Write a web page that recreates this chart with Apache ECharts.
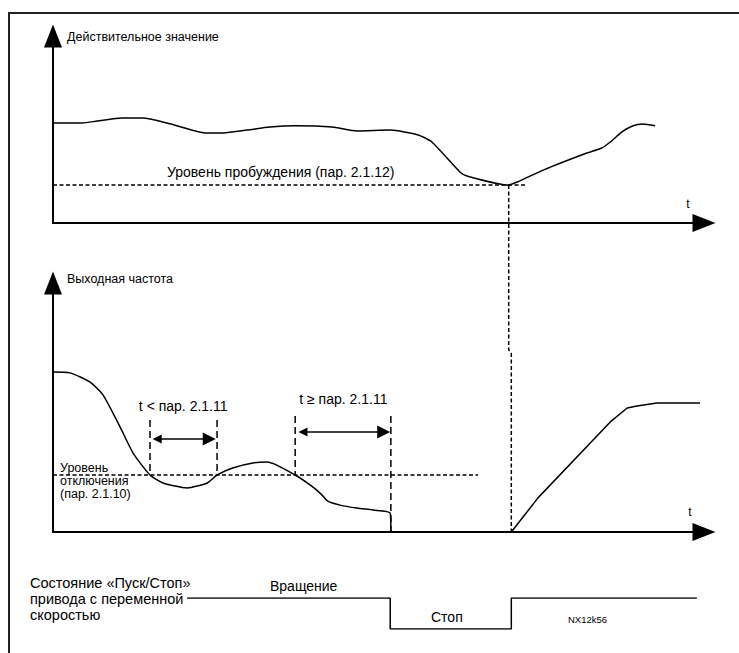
<!DOCTYPE html>
<html>
<head>
<meta charset="utf-8">
<title>Спящий режим</title>
<script src="https://cdn.jsdelivr.net/npm/echarts@6/dist/echarts.min.js"></script>
<style>
  html, body { margin: 0; padding: 0; background: #fff; }
  #chart { width: 739px; height: 653px; }
</style>
</head>
<body>
<div id="chart"></div>
<script>
// time axis runs 0..100 in all three panels, levels 0..100 in the two plots
const actualT = [0, 4.5, 6.8, 10.6, 13.8, 17.5, 23.7, 25.7, 29.8, 33.3, 37.2, 42.9, 46.7, 51.8, 56.1, 58.2, 62.5, 63.6, 69.9, 71.3, 75.3, 82.0, 84.3, 85.6, 87.4, 89.1, 90.6, 92.5]
const actualV = [53.5, 53.5, 54.5, 56.1, 56.1, 53.5, 48.1, 48.1, 49.7, 51.3, 52.0, 51.3, 49.2, 49.7, 47.1, 43.3, 27.3, 25.1, 20.3, 21.9, 28.3, 37.4, 40.1, 43.3, 48.7, 52.0, 52.9, 52.0]
const wakeLevel = 20.3
const wakeLineEnd = 72.8

const freqT = [0, 2.6, 5.7, 7.7, 10.3, 12.3, 14.9, 16.9, 20.6, 23.7, 25.2, 27.6, 30.7, 32.9, 37.2, 39.9, 41.3, 42.2, 44.1, 46.7, 49.2, 51.8, 51.9]
const freqV = [64.3, 63.9, 60.2, 55.0, 42.2, 31.7, 22.9, 19.7, 17.7, 19.7, 22.9, 25.7, 27.7, 28.1, 22.9, 18.1, 14.9, 12.4, 10.8, 9.6, 8.8, 7.6, 0]
const rampT = [70.4, 74.5, 85.6, 88.2, 89.7, 92.8, 99.4]
const rampV = [0, 13.7, 44.2, 49.8, 50.6, 51.8, 51.8]
const sleepLevel = 22.9
const sleepLineEnd = 65.3

// dashed line from the wake-up point down to the restart (in output-frequency units)
const wakeMarkT = [70.0, 70.0, 70.4, 70.4]
const wakeMarkV = [139.4, 73.1, 71.9, 0]

// sleep delay timer marks
const timerT = [14.9, 25.2, 37.2, 51.9]
const timerTop = [45.0, 45.0, 46.6, 46.6]
const timerBottom = [22.9, 22.9, 22.9, 0]
const spanStart = [16.0, 38.4]
const spanEnd = [24.0, 50.8]
const spanLevel = [37.3, 40.2]
const spanLabels = ['t < пар. 2.1.11', 't ≥ пар. 2.1.11']

// run / stop state
const stateT = [20.6, 51.8, 51.8, 70.4, 70.4, 98.9]
const stateV = [1, 1, 0, 0, 1, 1]

const FONT = 'Liberation Sans, Arial, sans-serif'
const BLACK = '#000'
const SHORT_DASH = { color: BLACK, width: 1.5, type: [4, 2.5] }

const zip = (xs, ys) => xs.map((x, i) => [x, ys[i]])

function arrowAxis(show) {
  return {
    type: 'value',
    min: 0,
    max: 100,
    show: show,
    axisLine: {
      show: true,
      onZero: false,
      symbol: ['none', 'triangle'],
      symbolSize: [18, 23],
      lineStyle: { color: BLACK, width: 2 }
    },
    axisTick: { show: false },
    axisLabel: { show: false },
    splitLine: { show: false }
  }
}

function curve(data, grid, extra) {
  return Object.assign({
    type: 'line',
    xAxisIndex: grid,
    yAxisIndex: grid,
    data: data,
    showSymbol: false,
    symbol: 'none',
    lineStyle: { color: BLACK, width: 1.5 },
    silent: true
  }, extra || {})
}

const series = [
  curve(zip(actualT, actualV), 0, { smooth: 0.2 }),
  curve([[0, wakeLevel], [wakeLineEnd, wakeLevel]], 0, { lineStyle: SHORT_DASH }),
  curve(zip(freqT, freqV), 1, { smooth: 0.2 }),
  curve(zip(rampT, rampV), 1),
  curve([[0, sleepLevel], [sleepLineEnd, sleepLevel]], 1, { lineStyle: SHORT_DASH }),
  curve(zip(wakeMarkT, wakeMarkV), 1, { clip: false, lineStyle: SHORT_DASH }),
  curve(zip(stateT, stateV), 2, { lineStyle: { color: BLACK, width: 1.5 } })
]

timerT.forEach((t, i) => {
  series.push(curve([[t, timerTop[i]], [t, timerBottom[i]]], 1, {
    lineStyle: { color: BLACK, width: 1.5, type: [7, 4] }
  }))
})

series.push({
  type: 'lines',
  coordinateSystem: 'cartesian2d',
  xAxisIndex: 1,
  yAxisIndex: 1,
  symbol: ['triangle', 'triangle'],
  symbolSize: [9, 13],
  lineStyle: { color: BLACK, width: 1.5, opacity: 1 },
  label: {
    show: true,
    position: 'middle',
    distance: 26,
    formatter: p => p.name,
    color: BLACK,
    fontFamily: FONT,
    fontSize: 14
  },
  silent: true,
  data: spanStart.map((s, i) => ({
    name: spanLabels[i],
    coords: [[s, spanLevel[i]], [spanEnd[i], spanLevel[i]]]
  }))
})

function text(x, y, str, size, extra) {
  return {
    type: 'text',
    x: x,
    y: y,
    silent: true,
    style: Object.assign({
      text: str,
      font: size + 'px ' + FONT,
      fill: BLACK,
      textAlign: 'left',
      textVerticalAlign: 'middle'
    }, extra || {})
  }
}

const option = {
  animation: false,
  backgroundColor: '#fff',
  grid: [
    { left: 53, top: 36, width: 651, height: 187 },
    { left: 53, top: 283, width: 651, height: 249 },
    { left: 53, top: 598, width: 651, height: 31 }
  ],
  xAxis: [arrowAxis(true), Object.assign(arrowAxis(true), { gridIndex: 1 }), Object.assign(arrowAxis(false), { gridIndex: 2 })],
  yAxis: [
    arrowAxis(true),
    Object.assign(arrowAxis(true), { gridIndex: 1 }),
    Object.assign(arrowAxis(false), { gridIndex: 2, max: 1 })
  ],
  series: series,
  graphic: [
    // frame
    { type: 'line', silent: true, shape: { x1: 8, y1: 13, x2: 739, y2: 13 }, style: { stroke: '#222', lineWidth: 2 } },
    { type: 'line', silent: true, shape: { x1: 9, y1: 13, x2: 9, y2: 653 }, style: { stroke: '#222', lineWidth: 2 } },
    text(67, 37, 'Действительное значение', 12.5),
    text(167, 172, 'Уровень пробуждения (пар. 2.1.12)', 14),
    text(688, 204, 't', 12, { textAlign: 'center' }),
    text(67, 279, 'Выходная частота', 12.5),
    text(60, 481, 'Уровень\nотключения\n(пар. 2.1.10)', 12.5, { lineHeight: 13 }),
    text(690, 512, 't', 12, { textAlign: 'center' }),
    text(30, 599, 'Состояние «Пуск/Стоп»\nпривода с переменной\nскоростью', 14.5, { lineHeight: 16 }),
    text(270, 586, 'Вращение', 14),
    text(431, 617, 'Стоп', 14),
    text(568, 619, 'NX12k56', 9.5)
  ]
}

const chart = echarts.init(document.getElementById('chart'), null, { renderer: 'svg' })
chart.setOption(option)
</script>
</body>
</html>
